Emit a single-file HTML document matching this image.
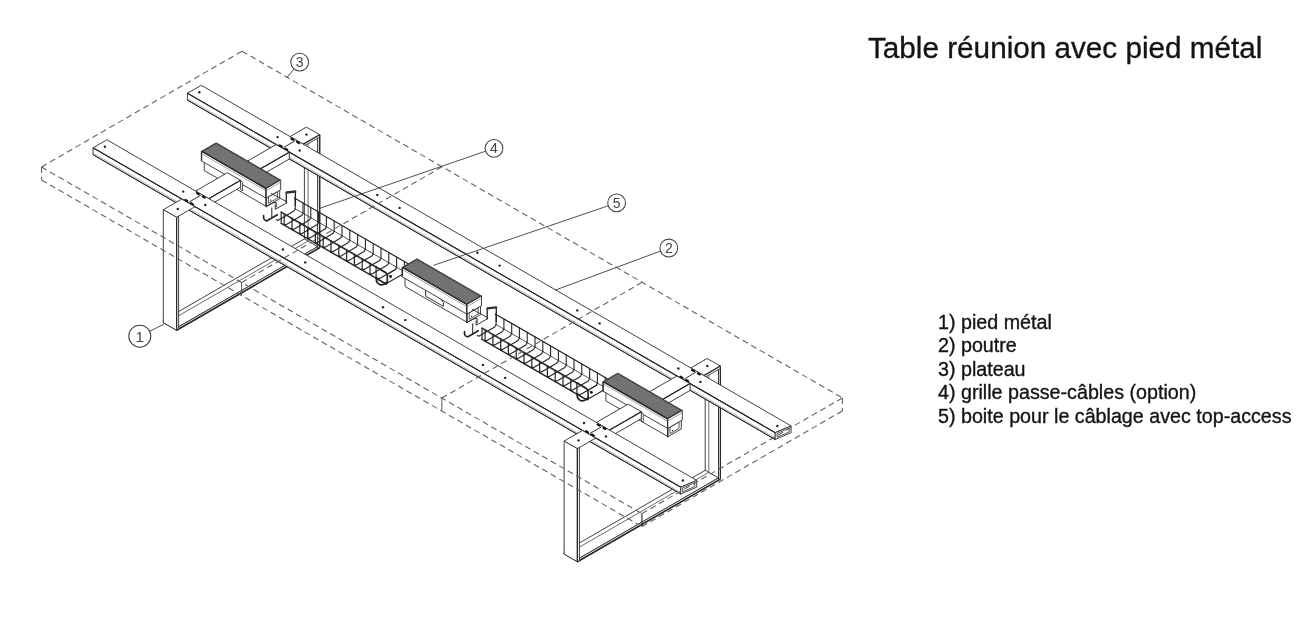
<!DOCTYPE html>
<html lang="fr">
<head>
<meta charset="utf-8">
<title>Table réunion avec pied métal</title>
<style>
html,body{margin:0;padding:0;background:#fff;}
body{width:1310px;height:622px;position:relative;overflow:hidden;font-family:"Liberation Sans",sans-serif;color:#111;}
svg{position:absolute;left:0;top:0;will-change:transform;filter:blur(0.4px);}
svg text{font-family:"Liberation Sans",sans-serif;}
.title,.legend{will-change:transform;filter:blur(0.25px);-webkit-text-stroke:0.35px #141414;}
.title{position:absolute;left:867.8px;top:29.6px;font-size:29.7px;line-height:36px;white-space:nowrap;color:#141414;}
.legend{position:absolute;left:937.8px;top:310.9px;font-size:19.7px;line-height:23.45px;white-space:nowrap;color:#141414;}
</style>
</head>
<body>
<svg width="1310" height="622" viewBox="0 0 1310 622" stroke-linecap="butt" stroke-linejoin="miter">
<defs>
<pattern id="hatch" width="1.5" height="1.5" patternUnits="userSpaceOnUse" patternTransform="rotate(30)">
<rect width="1.5" height="1.5" fill="#4c4c4c"/>
<rect x="0.2" y="0.2" width="0.85" height="0.85" fill="#c6c6c6"/>
</pattern>
</defs>
<polygon points="304.4,128.2 317.7,135.8 317.7,248.8 304.4,241.2" fill="#fff" stroke="#2b2b2b" stroke-width="0.9"/>
<polygon points="317.7,135.8 319.7,134.7 319.7,247.7 317.7,248.8" fill="#fff" stroke="#2b2b2b" stroke-width="0.9"/>
<line x1="308.1" y1="132.6" x2="308.1" y2="241" stroke="#2b2b2b" stroke-width="0.7"/>
<line x1="319.7" y1="134.7" x2="319.7" y2="247.7" stroke="#2b2b2b" stroke-width="1.3"/>
<polygon points="163.3,320.4 304.4,238.9 317.7,246.6 176.6,328" fill="#fff" stroke="#2b2b2b" stroke-width="0.9"/>
<polygon points="163.3,320.4 176.6,328 176.6,330.3 163.3,322.6" fill="#fff" stroke="#2b2b2b" stroke-width="0.9"/>
<polygon points="176.6,328 317.7,246.6 317.7,248.8 176.6,330.3" fill="#fff" stroke="#2b2b2b" stroke-width="0.9"/>
<line x1="169" y1="321.3" x2="308.1" y2="241" stroke="#2b2b2b" stroke-width="0.7"/>
<line x1="176.6" y1="330.3" x2="319.7" y2="247.7" stroke="#2b2b2b" stroke-width="1.6"/>
<polygon points="705.2,359.6 718.5,367.2 718.5,480.2 705.2,472.6" fill="#fff" stroke="#2b2b2b" stroke-width="0.9"/>
<polygon points="718.5,367.2 720.4,366.1 720.4,479.1 718.5,480.2" fill="#fff" stroke="#2b2b2b" stroke-width="0.9"/>
<line x1="708.8" y1="364" x2="708.8" y2="472.4" stroke="#2b2b2b" stroke-width="0.7"/>
<line x1="720.4" y1="366.1" x2="720.4" y2="479.1" stroke="#2b2b2b" stroke-width="1.3"/>
<polygon points="564.1,551.8 705.2,470.3 718.5,477.9 577.4,559.4" fill="#fff" stroke="#2b2b2b" stroke-width="0.9"/>
<polygon points="564.1,551.8 577.4,559.4 577.4,561.7 564.1,554.1" fill="#fff" stroke="#2b2b2b" stroke-width="0.9"/>
<polygon points="577.4,559.4 718.5,477.9 718.5,480.2 577.4,561.7" fill="#fff" stroke="#2b2b2b" stroke-width="0.9"/>
<line x1="569.8" y1="552.7" x2="708.8" y2="472.4" stroke="#2b2b2b" stroke-width="0.7"/>
<line x1="577.4" y1="561.7" x2="720.4" y2="479.1" stroke="#2b2b2b" stroke-width="1.6"/>
<polygon points="290,136.6 306.4,127.1 319.7,134.7 303.2,144.2" fill="#fff" stroke="#2b2b2b" stroke-width="0.9"/>
<polygon points="303.2,144.2 319.7,134.7 319.7,137 303.2,146.5" fill="#fff" stroke="#2b2b2b" stroke-width="0.9"/>
<line x1="303.2" y1="144.2" x2="319.7" y2="134.7" stroke="#2b2b2b" stroke-width="1.2"/>
<polygon points="690.7,368 707.2,358.5 720.4,366.1 704,375.6" fill="#fff" stroke="#2b2b2b" stroke-width="0.9"/>
<polygon points="704,375.6 720.4,366.1 720.4,368.4 704,377.9" fill="#fff" stroke="#2b2b2b" stroke-width="0.9"/>
<line x1="704" y1="375.6" x2="720.4" y2="366.1" stroke="#2b2b2b" stroke-width="1.2"/>
<polygon points="187.4,93.3 201.3,85.3 791.1,425.9 775.2,432.7" fill="#fff" stroke="#2b2b2b" stroke-width="0.9"/>
<polygon points="187.4,93.3 775.2,432.7 775.2,439.5 187.4,100.1" fill="#fff" stroke="#2b2b2b" stroke-width="0.9"/>
<polygon points="775.2,432.7 791.1,425.9 791.1,432.7 775.2,439.5" fill="#fff" stroke="#2b2b2b" stroke-width="0.9" stroke-linejoin="round"/>
<line x1="187.4" y1="93.3" x2="775.2" y2="432.7" stroke="#2b2b2b" stroke-width="1.2"/>
<line x1="187.4" y1="100.1" x2="775.2" y2="439.5" stroke="#2b2b2b" stroke-width="1"/>
<line x1="187.4" y1="98.5" x2="775.2" y2="437.9" stroke="#777" stroke-width="0.5"/>
<polygon points="777.1,433.4 789.2,428.2 789.2,432 777.1,437.2" fill="#fff" stroke="#2b2b2b" stroke-width="0.8" stroke-linejoin="round"/>
<polygon points="242.1,164.2 276.1,144.6 289.3,152.2 255.3,171.8" fill="#fff" stroke="#2b2b2b" stroke-width="0.9"/>
<polygon points="255.3,171.8 289.3,152.2 289.3,159 255.3,178.7" fill="#fff" stroke="#2b2b2b" stroke-width="0.9"/>
<line x1="255.3" y1="171.8" x2="289.3" y2="152.2" stroke="#2b2b2b" stroke-width="1.2"/>
<polygon points="642.9,395.6 676.9,376 690.1,383.6 656.1,403.2" fill="#fff" stroke="#2b2b2b" stroke-width="0.9"/>
<polygon points="656.1,403.2 690.1,383.6 690.1,390.4 656.1,410.1" fill="#fff" stroke="#2b2b2b" stroke-width="0.9"/>
<line x1="656.1" y1="403.2" x2="690.1" y2="383.6" stroke="#2b2b2b" stroke-width="1.2"/>
<polyline points="294.4,198 415.6,268" fill="none" stroke="#262626" stroke-width="1.2" stroke-linejoin="round" stroke-linecap="round"/>
<polyline points="295.2,198.5 295.2,208.7" fill="none" stroke="#262626" stroke-width="1.1" stroke-linejoin="round" stroke-linecap="round"/>
<polyline points="303,203 303,213.2" fill="none" stroke="#262626" stroke-width="1.1" stroke-linejoin="round" stroke-linecap="round"/>
<polyline points="310.8,207.5 310.8,217.7" fill="none" stroke="#262626" stroke-width="1.1" stroke-linejoin="round" stroke-linecap="round"/>
<polyline points="318.6,212 318.6,222.2" fill="none" stroke="#262626" stroke-width="1.1" stroke-linejoin="round" stroke-linecap="round"/>
<polyline points="326.4,216.5 326.4,226.7" fill="none" stroke="#262626" stroke-width="1.1" stroke-linejoin="round" stroke-linecap="round"/>
<polyline points="334.2,221 334.2,231.2" fill="none" stroke="#262626" stroke-width="1.1" stroke-linejoin="round" stroke-linecap="round"/>
<polyline points="342,225.5 342,235.7" fill="none" stroke="#262626" stroke-width="1.1" stroke-linejoin="round" stroke-linecap="round"/>
<polyline points="349.8,230 349.8,240.2" fill="none" stroke="#262626" stroke-width="1.1" stroke-linejoin="round" stroke-linecap="round"/>
<polyline points="357.6,234.5 357.6,244.7" fill="none" stroke="#262626" stroke-width="1.1" stroke-linejoin="round" stroke-linecap="round"/>
<polyline points="365.4,239 365.4,249.2" fill="none" stroke="#262626" stroke-width="1.1" stroke-linejoin="round" stroke-linecap="round"/>
<polyline points="373.2,243.5 373.2,253.7" fill="none" stroke="#262626" stroke-width="1.1" stroke-linejoin="round" stroke-linecap="round"/>
<polyline points="381,248 381,258.2" fill="none" stroke="#262626" stroke-width="1.1" stroke-linejoin="round" stroke-linecap="round"/>
<polyline points="388.8,252.5 388.8,262.7" fill="none" stroke="#262626" stroke-width="1.1" stroke-linejoin="round" stroke-linecap="round"/>
<polyline points="396.6,257 396.6,267.2" fill="none" stroke="#262626" stroke-width="1.1" stroke-linejoin="round" stroke-linecap="round"/>
<polyline points="404.4,261.5 404.4,271.7" fill="none" stroke="#262626" stroke-width="1.1" stroke-linejoin="round" stroke-linecap="round"/>
<polyline points="412.1,266 412.1,276.2" fill="none" stroke="#262626" stroke-width="1.1" stroke-linejoin="round" stroke-linecap="round"/>
<polyline points="295.2,208.7 415.6,278.2" fill="none" stroke="#262626" stroke-width="0.8" stroke-linejoin="round" stroke-linecap="round"/>
<polyline points="289.3,217.7 391.5,276.7" fill="none" stroke="#555" stroke-width="0.6" stroke-linejoin="round" stroke-linecap="round"/>
<polyline points="295.2,208.7 293.9,211.1 277.8,220.4 276.4,219.6" fill="none" stroke="#262626" stroke-width="1.1" stroke-linejoin="round" stroke-linecap="round"/>
<polyline points="303,213.2 301.6,215.6 285.6,224.9 284.2,224.1" fill="none" stroke="#262626" stroke-width="1.1" stroke-linejoin="round" stroke-linecap="round"/>
<polyline points="310.8,217.7 309.4,220.1 293.4,229.4 292,228.6" fill="none" stroke="#262626" stroke-width="1.1" stroke-linejoin="round" stroke-linecap="round"/>
<polyline points="318.6,222.2 317.2,224.6 301.2,233.9 299.8,233.1" fill="none" stroke="#262626" stroke-width="1.1" stroke-linejoin="round" stroke-linecap="round"/>
<polyline points="326.4,226.7 325,229.1 309,238.4 307.6,237.6" fill="none" stroke="#262626" stroke-width="1.1" stroke-linejoin="round" stroke-linecap="round"/>
<polyline points="334.2,231.2 332.8,233.6 316.8,242.9 315.4,242.1" fill="none" stroke="#262626" stroke-width="1.1" stroke-linejoin="round" stroke-linecap="round"/>
<polyline points="342,235.7 340.6,238.1 324.6,247.4 323.2,246.6" fill="none" stroke="#262626" stroke-width="1.1" stroke-linejoin="round" stroke-linecap="round"/>
<polyline points="349.8,240.2 348.4,242.6 332.4,251.9 331,251.1" fill="none" stroke="#262626" stroke-width="1.1" stroke-linejoin="round" stroke-linecap="round"/>
<polyline points="357.6,244.7 356.2,247.1 340.2,256.4 338.8,255.6" fill="none" stroke="#262626" stroke-width="1.1" stroke-linejoin="round" stroke-linecap="round"/>
<polyline points="365.4,249.2 364,251.6 348,260.9 346.6,260.1" fill="none" stroke="#262626" stroke-width="1.1" stroke-linejoin="round" stroke-linecap="round"/>
<polyline points="373.2,253.7 371.8,256.1 355.8,265.3 354.4,264.5" fill="none" stroke="#262626" stroke-width="1.1" stroke-linejoin="round" stroke-linecap="round"/>
<polyline points="381,258.2 379.6,260.6 363.6,269.8 362.2,269" fill="none" stroke="#262626" stroke-width="1.1" stroke-linejoin="round" stroke-linecap="round"/>
<polyline points="388.8,262.7 387.4,265.1 371.4,274.3 370,273.5" fill="none" stroke="#262626" stroke-width="1.1" stroke-linejoin="round" stroke-linecap="round"/>
<polyline points="396.6,267.2 395.2,269.6 379.2,278.8 377.8,278" fill="none" stroke="#262626" stroke-width="1.1" stroke-linejoin="round" stroke-linecap="round"/>
<polyline points="404.4,271.7 403,274.1 386.9,283.3 385.6,282.5" fill="none" stroke="#262626" stroke-width="1.1" stroke-linejoin="round" stroke-linecap="round"/>
<polyline points="281.2,223.4 281.2,212.1" fill="none" stroke="#262626" stroke-width="1.2" stroke-linejoin="round" stroke-linecap="round"/>
<polyline points="284.2,225.2 284.2,213.9" fill="none" stroke="#262626" stroke-width="1.2" stroke-linejoin="round" stroke-linecap="round"/>
<polyline points="292,229.7 292,218.4" fill="none" stroke="#262626" stroke-width="1.2" stroke-linejoin="round" stroke-linecap="round"/>
<polyline points="299.8,234.2 299.8,222.9" fill="none" stroke="#262626" stroke-width="1.2" stroke-linejoin="round" stroke-linecap="round"/>
<polyline points="307.6,238.7 307.6,227.4" fill="none" stroke="#262626" stroke-width="1.2" stroke-linejoin="round" stroke-linecap="round"/>
<polyline points="315.4,243.2 315.4,231.9" fill="none" stroke="#262626" stroke-width="1.2" stroke-linejoin="round" stroke-linecap="round"/>
<polyline points="323.2,247.7 323.2,236.4" fill="none" stroke="#262626" stroke-width="1.2" stroke-linejoin="round" stroke-linecap="round"/>
<polyline points="331,252.2 331,240.9" fill="none" stroke="#262626" stroke-width="1.2" stroke-linejoin="round" stroke-linecap="round"/>
<polyline points="338.8,256.7 338.8,245.4" fill="none" stroke="#262626" stroke-width="1.2" stroke-linejoin="round" stroke-linecap="round"/>
<polyline points="346.6,261.2 346.6,249.9" fill="none" stroke="#262626" stroke-width="1.2" stroke-linejoin="round" stroke-linecap="round"/>
<polyline points="354.4,265.6 354.4,254.3" fill="none" stroke="#262626" stroke-width="1.2" stroke-linejoin="round" stroke-linecap="round"/>
<polyline points="362.2,270.1 362.2,258.8" fill="none" stroke="#262626" stroke-width="1.2" stroke-linejoin="round" stroke-linecap="round"/>
<polyline points="370,274.6 370,263.3" fill="none" stroke="#262626" stroke-width="1.2" stroke-linejoin="round" stroke-linecap="round"/>
<polyline points="376.1,278.2 376.1,266.9" fill="none" stroke="#262626" stroke-width="1.2" stroke-linejoin="round" stroke-linecap="round"/>
<polyline points="281.2,212.1 376.1,266.9" fill="none" stroke="#262626" stroke-width="1.4" stroke-linejoin="round" stroke-linecap="round"/>
<polyline points="281.2,223.4 376.1,278.2" fill="none" stroke="#262626" stroke-width="1.4" stroke-linejoin="round" stroke-linecap="round"/>
<polyline points="495.2,313.9 616.4,383.9" fill="none" stroke="#262626" stroke-width="1.2" stroke-linejoin="round" stroke-linecap="round"/>
<polyline points="496.1,314.4 496.1,324.6" fill="none" stroke="#262626" stroke-width="1.1" stroke-linejoin="round" stroke-linecap="round"/>
<polyline points="503.9,318.9 503.9,329.1" fill="none" stroke="#262626" stroke-width="1.1" stroke-linejoin="round" stroke-linecap="round"/>
<polyline points="511.7,323.4 511.7,333.6" fill="none" stroke="#262626" stroke-width="1.1" stroke-linejoin="round" stroke-linecap="round"/>
<polyline points="519.4,327.9 519.4,338.1" fill="none" stroke="#262626" stroke-width="1.1" stroke-linejoin="round" stroke-linecap="round"/>
<polyline points="527.2,332.4 527.2,342.6" fill="none" stroke="#262626" stroke-width="1.1" stroke-linejoin="round" stroke-linecap="round"/>
<polyline points="535,336.9 535,347.1" fill="none" stroke="#262626" stroke-width="1.1" stroke-linejoin="round" stroke-linecap="round"/>
<polyline points="542.8,341.4 542.8,351.6" fill="none" stroke="#262626" stroke-width="1.1" stroke-linejoin="round" stroke-linecap="round"/>
<polyline points="550.6,345.9 550.6,356.1" fill="none" stroke="#262626" stroke-width="1.1" stroke-linejoin="round" stroke-linecap="round"/>
<polyline points="558.4,350.4 558.4,360.6" fill="none" stroke="#262626" stroke-width="1.1" stroke-linejoin="round" stroke-linecap="round"/>
<polyline points="566.2,354.9 566.2,365.1" fill="none" stroke="#262626" stroke-width="1.1" stroke-linejoin="round" stroke-linecap="round"/>
<polyline points="574,359.4 574,369.6" fill="none" stroke="#262626" stroke-width="1.1" stroke-linejoin="round" stroke-linecap="round"/>
<polyline points="581.8,363.9 581.8,374.1" fill="none" stroke="#262626" stroke-width="1.1" stroke-linejoin="round" stroke-linecap="round"/>
<polyline points="589.6,368.4 589.6,378.6" fill="none" stroke="#262626" stroke-width="1.1" stroke-linejoin="round" stroke-linecap="round"/>
<polyline points="597.4,372.9 597.4,383.1" fill="none" stroke="#262626" stroke-width="1.1" stroke-linejoin="round" stroke-linecap="round"/>
<polyline points="605.2,377.4 605.2,387.6" fill="none" stroke="#262626" stroke-width="1.1" stroke-linejoin="round" stroke-linecap="round"/>
<polyline points="613,381.9 613,392.1" fill="none" stroke="#262626" stroke-width="1.1" stroke-linejoin="round" stroke-linecap="round"/>
<polyline points="496.1,324.6 616.4,394.1" fill="none" stroke="#262626" stroke-width="0.8" stroke-linejoin="round" stroke-linecap="round"/>
<polyline points="490.1,333.7 592.3,392.7" fill="none" stroke="#555" stroke-width="0.6" stroke-linejoin="round" stroke-linecap="round"/>
<polyline points="496.1,324.6 494.7,327.1 478.7,336.3 477.3,335.5" fill="none" stroke="#262626" stroke-width="1.1" stroke-linejoin="round" stroke-linecap="round"/>
<polyline points="503.9,329.1 502.5,331.6 486.5,340.8 485.1,340" fill="none" stroke="#262626" stroke-width="1.1" stroke-linejoin="round" stroke-linecap="round"/>
<polyline points="511.7,333.6 510.3,336.1 494.2,345.3 492.9,344.5" fill="none" stroke="#262626" stroke-width="1.1" stroke-linejoin="round" stroke-linecap="round"/>
<polyline points="519.4,338.1 518.1,340.6 502,349.8 500.7,349" fill="none" stroke="#262626" stroke-width="1.1" stroke-linejoin="round" stroke-linecap="round"/>
<polyline points="527.2,342.6 525.9,345.1 509.8,354.3 508.4,353.5" fill="none" stroke="#262626" stroke-width="1.1" stroke-linejoin="round" stroke-linecap="round"/>
<polyline points="535,347.1 533.6,349.6 517.6,358.8 516.2,358" fill="none" stroke="#262626" stroke-width="1.1" stroke-linejoin="round" stroke-linecap="round"/>
<polyline points="542.8,351.6 541.4,354.1 525.4,363.3 524,362.5" fill="none" stroke="#262626" stroke-width="1.1" stroke-linejoin="round" stroke-linecap="round"/>
<polyline points="550.6,356.1 549.2,358.6 533.2,367.8 531.8,367" fill="none" stroke="#262626" stroke-width="1.1" stroke-linejoin="round" stroke-linecap="round"/>
<polyline points="558.4,360.6 557,363.1 541,372.3 539.6,371.5" fill="none" stroke="#262626" stroke-width="1.1" stroke-linejoin="round" stroke-linecap="round"/>
<polyline points="566.2,365.1 564.8,367.6 548.8,376.8 547.4,376" fill="none" stroke="#262626" stroke-width="1.1" stroke-linejoin="round" stroke-linecap="round"/>
<polyline points="574,369.6 572.6,372.1 556.6,381.3 555.2,380.5" fill="none" stroke="#262626" stroke-width="1.1" stroke-linejoin="round" stroke-linecap="round"/>
<polyline points="581.8,374.1 580.4,376.6 564.4,385.8 563,385" fill="none" stroke="#262626" stroke-width="1.1" stroke-linejoin="round" stroke-linecap="round"/>
<polyline points="589.6,378.6 588.2,381.1 572.2,390.3 570.8,389.5" fill="none" stroke="#262626" stroke-width="1.1" stroke-linejoin="round" stroke-linecap="round"/>
<polyline points="597.4,383.1 596,385.6 580,394.8 578.6,394" fill="none" stroke="#262626" stroke-width="1.1" stroke-linejoin="round" stroke-linecap="round"/>
<polyline points="605.2,387.6 603.8,390.1 587.8,399.3 586.4,398.5" fill="none" stroke="#262626" stroke-width="1.1" stroke-linejoin="round" stroke-linecap="round"/>
<polyline points="482,339.4 482,328.1" fill="none" stroke="#262626" stroke-width="1.2" stroke-linejoin="round" stroke-linecap="round"/>
<polyline points="485.1,341.1 485.1,329.8" fill="none" stroke="#262626" stroke-width="1.2" stroke-linejoin="round" stroke-linecap="round"/>
<polyline points="492.9,345.6 492.9,334.3" fill="none" stroke="#262626" stroke-width="1.2" stroke-linejoin="round" stroke-linecap="round"/>
<polyline points="500.7,350.1 500.7,338.8" fill="none" stroke="#262626" stroke-width="1.2" stroke-linejoin="round" stroke-linecap="round"/>
<polyline points="508.4,354.6 508.4,343.3" fill="none" stroke="#262626" stroke-width="1.2" stroke-linejoin="round" stroke-linecap="round"/>
<polyline points="516.2,359.1 516.2,347.8" fill="none" stroke="#262626" stroke-width="1.2" stroke-linejoin="round" stroke-linecap="round"/>
<polyline points="524,363.6 524,352.3" fill="none" stroke="#262626" stroke-width="1.2" stroke-linejoin="round" stroke-linecap="round"/>
<polyline points="531.8,368.1 531.8,356.8" fill="none" stroke="#262626" stroke-width="1.2" stroke-linejoin="round" stroke-linecap="round"/>
<polyline points="539.6,372.6 539.6,361.3" fill="none" stroke="#262626" stroke-width="1.2" stroke-linejoin="round" stroke-linecap="round"/>
<polyline points="547.4,377.1 547.4,365.8" fill="none" stroke="#262626" stroke-width="1.2" stroke-linejoin="round" stroke-linecap="round"/>
<polyline points="555.2,381.6 555.2,370.3" fill="none" stroke="#262626" stroke-width="1.2" stroke-linejoin="round" stroke-linecap="round"/>
<polyline points="563,386.1 563,374.8" fill="none" stroke="#262626" stroke-width="1.2" stroke-linejoin="round" stroke-linecap="round"/>
<polyline points="570.8,390.6 570.8,379.3" fill="none" stroke="#262626" stroke-width="1.2" stroke-linejoin="round" stroke-linecap="round"/>
<polyline points="576.9,394.1 576.9,382.8" fill="none" stroke="#262626" stroke-width="1.2" stroke-linejoin="round" stroke-linecap="round"/>
<polyline points="482,328.1 576.9,382.8" fill="none" stroke="#262626" stroke-width="1.4" stroke-linejoin="round" stroke-linecap="round"/>
<polyline points="482,339.4 576.9,394.1" fill="none" stroke="#262626" stroke-width="1.4" stroke-linejoin="round" stroke-linecap="round"/>
<polygon points="204.2,161 217.6,153.3 279.7,189.2 266.3,196.9" fill="#fff" stroke="#2b2b2b" stroke-width="0.9"/>
<polygon points="204.2,161 266.3,196.9 266.3,206.4 204.2,170.5" fill="#fff" stroke="#2b2b2b" stroke-width="0.9"/>
<polygon points="266.3,196.9 279.7,189.2 279.7,198.7 266.3,206.4" fill="#fff" stroke="#2b2b2b" stroke-width="0.9"/>
<polygon points="268.4,203.4 277.4,198.2 277.4,191.8 268.4,197" fill="#fff" stroke="#2b2b2b" stroke-width="0.8" stroke-linejoin="round"/>
<circle cx="270.8" cy="200.2" r="0.7" fill="#222"/>
<polygon points="201.5,151.3 216.2,142.8 280.7,180.1 266,188.6" fill="#fff" stroke="#2b2b2b" stroke-width="0.9"/>
<polygon points="201.5,151.3 266,188.6 266,198.2 201.5,160.9" fill="#fff" stroke="#2b2b2b" stroke-width="0.9"/>
<polygon points="266,188.6 280.7,180.1 280.7,189.7 266,198.2" fill="#fff" stroke="#2b2b2b" stroke-width="0.9"/>
<line x1="201.5" y1="153.6" x2="266" y2="190.8" stroke="#666" stroke-width="0.6"/>
<line x1="266" y1="190.8" x2="280.7" y2="182.3" stroke="#666" stroke-width="0.6"/>
<line x1="201.5" y1="151.3" x2="266" y2="188.6" stroke="#2b2b2b" stroke-width="1.3"/>
<line x1="201.5" y1="151.3" x2="201.5" y2="160.9" stroke="#2b2b2b" stroke-width="1.3"/>
<line x1="266" y1="188.6" x2="266" y2="207.2" stroke="#2b2b2b" stroke-width="1.1"/>
<polygon points="202.7,151.3 216.2,143.5 279.5,180.1 266,187.9" fill="url(#hatch)" stroke="#222" stroke-width="0.8"/>
<polygon points="405,277 418.4,269.3 480.5,305.1 467.1,312.8" fill="#fff" stroke="#2b2b2b" stroke-width="0.9"/>
<polygon points="405,277 467.1,312.8 467.1,322.3 405,286.5" fill="#fff" stroke="#2b2b2b" stroke-width="0.9"/>
<polygon points="467.1,312.8 480.5,305.1 480.5,314.6 467.1,322.3" fill="#fff" stroke="#2b2b2b" stroke-width="0.9"/>
<polygon points="469.2,319.3 478.2,314.1 478.2,307.8 469.2,312.9" fill="#fff" stroke="#2b2b2b" stroke-width="0.8" stroke-linejoin="round"/>
<circle cx="471.6" cy="316.2" r="0.7" fill="#222"/>
<polyline points="425.6,289.3 439.9,297.6 443.4,302.6 443.4,306.4 425.6,296.1 425.6,289.3" fill="none" stroke="#333" stroke-width="1" stroke-linejoin="round" stroke-linecap="round"/>
<polygon points="402.3,267.3 417,258.8 481.5,296 466.8,304.5" fill="#fff" stroke="#2b2b2b" stroke-width="0.9"/>
<polygon points="402.3,267.3 466.8,304.5 466.8,314.1 402.3,276.9" fill="#fff" stroke="#2b2b2b" stroke-width="0.9"/>
<polygon points="466.8,304.5 481.5,296 481.5,305.6 466.8,314.1" fill="#fff" stroke="#2b2b2b" stroke-width="0.9"/>
<line x1="402.3" y1="269.5" x2="466.8" y2="306.7" stroke="#666" stroke-width="0.6"/>
<line x1="466.8" y1="306.7" x2="481.5" y2="298.2" stroke="#666" stroke-width="0.6"/>
<line x1="402.3" y1="267.3" x2="466.8" y2="304.5" stroke="#2b2b2b" stroke-width="1.3"/>
<line x1="402.3" y1="267.3" x2="402.3" y2="276.9" stroke="#2b2b2b" stroke-width="1.3"/>
<line x1="466.8" y1="304.5" x2="466.8" y2="323.1" stroke="#2b2b2b" stroke-width="1.1"/>
<polygon points="403.5,267.3 417,259.5 480.3,296.1 466.8,303.9" fill="url(#hatch)" stroke="#222" stroke-width="0.8"/>
<polygon points="605.9,391.4 619.2,383.7 681.3,419.5 668,427.2" fill="#fff" stroke="#2b2b2b" stroke-width="0.9"/>
<polygon points="605.9,391.4 668,427.2 668,436.7 605.9,400.9" fill="#fff" stroke="#2b2b2b" stroke-width="0.9"/>
<polygon points="668,427.2 681.3,419.5 681.3,429 668,436.7" fill="#fff" stroke="#2b2b2b" stroke-width="0.9"/>
<polygon points="670,433.7 679,428.5 679,422.1 670,427.3" fill="#fff" stroke="#2b2b2b" stroke-width="0.8" stroke-linejoin="round"/>
<circle cx="672.5" cy="430.5" r="0.7" fill="#222"/>
<polygon points="603.1,381.6 617.8,373.1 682.3,410.4 667.6,418.9" fill="#fff" stroke="#2b2b2b" stroke-width="0.9"/>
<polygon points="603.1,381.6 667.6,418.9 667.6,428.5 603.1,391.2" fill="#fff" stroke="#2b2b2b" stroke-width="0.9"/>
<polygon points="667.6,418.9 682.3,410.4 682.3,420 667.6,428.5" fill="#fff" stroke="#2b2b2b" stroke-width="0.9"/>
<line x1="603.1" y1="383.8" x2="667.6" y2="421.1" stroke="#666" stroke-width="0.6"/>
<line x1="667.6" y1="421.1" x2="682.3" y2="412.6" stroke="#666" stroke-width="0.6"/>
<line x1="603.1" y1="381.6" x2="667.6" y2="418.9" stroke="#2b2b2b" stroke-width="1.3"/>
<line x1="603.1" y1="381.6" x2="603.1" y2="391.2" stroke="#2b2b2b" stroke-width="1.3"/>
<line x1="667.6" y1="418.9" x2="667.6" y2="437.5" stroke="#2b2b2b" stroke-width="1.1"/>
<polygon points="604.3,381.7 617.8,373.9 681.1,410.4 667.6,418.2" fill="url(#hatch)" stroke="#222" stroke-width="0.8"/>
<path d="M295.4 191.9 L295.4 205.5" fill="none" stroke="#222" stroke-width="1.3" stroke-linecap="round" stroke-linejoin="round"/>
<path d="M286.3 192.9 L286.3 203" fill="none" stroke="#222" stroke-width="1.3" stroke-linecap="round" stroke-linejoin="round"/>
<path d="M286.5 192.5 L295.2 191.5" fill="none" stroke="#333" stroke-width="2.4" stroke-linecap="round" stroke-linejoin="round"/>
<path d="M271.4 193.5 L286.3 201.5" fill="none" stroke="#222" stroke-width="0.9" stroke-linecap="round" stroke-linejoin="round"/>
<path d="M286.3 203 L275.2 209.3 L275.2 205" fill="none" stroke="#222" stroke-width="0.9" stroke-linecap="round" stroke-linejoin="round"/>
<path d="M263.6 215.6 C263.2 218.6 264.4 221.1 267.1 220.8 L277.4 214.8" fill="none" stroke="#222" stroke-width="1.6" stroke-linecap="round" stroke-linejoin="round"/>
<path d="M271.8 207.9 L271.8 218" fill="none" stroke="#222" stroke-width="1" stroke-linecap="round" stroke-linejoin="round"/>
<path d="M266.9 206.2 L272.8 203 L276.2 202.4 L276.2 206.9" fill="none" stroke="#222" stroke-width="1" stroke-linecap="round" stroke-linejoin="round"/>
<path d="M376.1 266.9 L385.3 272.2 Q387.3 273.4 387.3 275.6 L387.3 282.2 Q387.3 284.7 385.1 283.5 L376.1 278.2" fill="none" stroke="#222" stroke-width="1.6" stroke-linecap="round" stroke-linejoin="round"/>
<path d="M376.4 277.7 Q375.8 283.7 380.7 284.8 Q384.3 285.2 386.3 282.4" fill="none" stroke="#222" stroke-width="1.7" stroke-linecap="round" stroke-linejoin="round"/>
<path d="M387.3 274.4 L396.3 269.2" fill="none" stroke="#222" stroke-width="1" stroke-linecap="round" stroke-linejoin="round"/>
<circle cx="390.6" cy="276.5" r="1.4" fill="#111"/>
<path d="M496.3 307.8 L496.3 321.4" fill="none" stroke="#222" stroke-width="1.3" stroke-linecap="round" stroke-linejoin="round"/>
<path d="M487.2 308.8 L487.2 318.9" fill="none" stroke="#222" stroke-width="1.3" stroke-linecap="round" stroke-linejoin="round"/>
<path d="M487.4 308.4 L496.1 307.4" fill="none" stroke="#333" stroke-width="2.4" stroke-linecap="round" stroke-linejoin="round"/>
<path d="M472.3 309.4 L487.2 317.4" fill="none" stroke="#222" stroke-width="0.9" stroke-linecap="round" stroke-linejoin="round"/>
<path d="M487.2 318.9 L476.1 325.2 L476.1 320.9" fill="none" stroke="#222" stroke-width="0.9" stroke-linecap="round" stroke-linejoin="round"/>
<path d="M464.5 331.5 C464.1 334.5 465.3 337 468 336.7 L478.3 330.7" fill="none" stroke="#222" stroke-width="1.6" stroke-linecap="round" stroke-linejoin="round"/>
<path d="M472.7 323.8 L472.7 333.9" fill="none" stroke="#222" stroke-width="1" stroke-linecap="round" stroke-linejoin="round"/>
<path d="M467.8 322.1 L473.7 318.9 L477.1 318.3 L477.1 322.8" fill="none" stroke="#222" stroke-width="1" stroke-linecap="round" stroke-linejoin="round"/>
<path d="M576.9 382.8 L586.1 388.2 Q588.1 389.3 588.1 391.5 L588.1 398.1 Q588.1 400.6 585.9 399.4 L576.9 394.1" fill="none" stroke="#222" stroke-width="1.6" stroke-linecap="round" stroke-linejoin="round"/>
<path d="M577.2 393.6 Q576.6 399.6 581.5 400.8 Q585.1 401.1 587.1 398.3" fill="none" stroke="#222" stroke-width="1.7" stroke-linecap="round" stroke-linejoin="round"/>
<path d="M588.1 390.3 L597.1 385.1" fill="none" stroke="#222" stroke-width="1" stroke-linecap="round" stroke-linejoin="round"/>
<circle cx="591.4" cy="392.4" r="1.4" fill="#111"/>
<polygon points="195.6,191.1 227.3,172.7 240.6,180.3 208.8,198.7" fill="#fff" stroke="#2b2b2b" stroke-width="0.9"/>
<polygon points="208.8,198.7 240.6,180.3 240.6,187.2 208.8,205.5" fill="#fff" stroke="#2b2b2b" stroke-width="0.9"/>
<line x1="208.8" y1="198.7" x2="240.6" y2="180.3" stroke="#2b2b2b" stroke-width="1.2"/>
<polygon points="240.6,180.3 242.5,182.5 242.5,190.8 240.6,189.7" fill="#fff" stroke="#2b2b2b" stroke-width="0.8"/>
<polygon points="596.3,422.5 628.1,404.1 641.4,411.8 609.6,430.1" fill="#fff" stroke="#2b2b2b" stroke-width="0.9"/>
<polygon points="609.6,430.1 641.4,411.8 641.4,418.6 609.6,436.9" fill="#fff" stroke="#2b2b2b" stroke-width="0.9"/>
<line x1="609.6" y1="430.1" x2="641.4" y2="411.8" stroke="#2b2b2b" stroke-width="1.2"/>
<polygon points="641.4,411.8 643.3,413.9 643.3,422.2 641.4,421.1" fill="#fff" stroke="#2b2b2b" stroke-width="0.8"/>
<polygon points="93,147.8 106.9,139.8 696.7,480.4 680.8,487.2" fill="#fff" stroke="#2b2b2b" stroke-width="0.9"/>
<polygon points="93,147.8 680.8,487.2 680.8,494 93,154.7" fill="#fff" stroke="#2b2b2b" stroke-width="0.9"/>
<polygon points="680.8,487.2 696.7,480.4 696.7,487.2 680.8,494" fill="#fff" stroke="#2b2b2b" stroke-width="0.9" stroke-linejoin="round"/>
<line x1="93" y1="147.8" x2="680.8" y2="487.2" stroke="#2b2b2b" stroke-width="1.2"/>
<line x1="93" y1="154.7" x2="680.8" y2="494" stroke="#2b2b2b" stroke-width="1"/>
<line x1="93" y1="153" x2="680.8" y2="492.4" stroke="#777" stroke-width="0.5"/>
<polygon points="682.7,487.9 694.8,482.7 694.8,486.5 682.7,491.7" fill="#fff" stroke="#2b2b2b" stroke-width="0.8" stroke-linejoin="round"/>
<polygon points="163.3,209.7 181.7,199.1 195,206.7 176.6,217.3" fill="#fff" stroke="#2b2b2b" stroke-width="0.9"/>
<polygon points="163.3,209.7 176.6,217.3 176.6,330.3 163.3,322.6" fill="#fff" stroke="#2b2b2b" stroke-width="0.9"/>
<polygon points="176.6,217.3 178.6,216.1 178.6,329.1 176.6,330.3" fill="#fff" stroke="#2b2b2b" stroke-width="0.9"/>
<line x1="176.6" y1="217.3" x2="176.6" y2="330.3" stroke="#2b2b2b" stroke-width="1.2"/>
<polygon points="564.1,441.1 582.5,430.5 595.7,438.1 577.4,448.7" fill="#fff" stroke="#2b2b2b" stroke-width="0.9"/>
<polygon points="564.1,441.1 577.4,448.7 577.4,561.7 564.1,554.1" fill="#fff" stroke="#2b2b2b" stroke-width="0.9"/>
<polygon points="577.4,448.7 579.4,447.6 579.4,560.5 577.4,561.7" fill="#fff" stroke="#2b2b2b" stroke-width="0.9"/>
<line x1="577.4" y1="448.7" x2="577.4" y2="561.7" stroke="#2b2b2b" stroke-width="1.2"/>
<line x1="185.3" y1="199.8" x2="187.3" y2="201" stroke="#111" stroke-width="2.1" stroke-linecap="round"/>
<line x1="191" y1="203.1" x2="193" y2="204.3" stroke="#111" stroke-width="2.1" stroke-linecap="round"/>
<line x1="196.9" y1="193.1" x2="198.9" y2="194.3" stroke="#111" stroke-width="2.1" stroke-linecap="round"/>
<line x1="202.6" y1="196.4" x2="204.7" y2="197.6" stroke="#111" stroke-width="2.1" stroke-linecap="round"/>
<line x1="189.2" y1="202" x2="200.8" y2="195.3" stroke="#333" stroke-width="1"/>
<circle cx="183.2" cy="191.6" r="1.2" fill="#222"/>
<circle cx="205.3" cy="205" r="1.2" fill="#222"/>
<line x1="279.6" y1="145.3" x2="281.7" y2="146.5" stroke="#111" stroke-width="2.1" stroke-linecap="round"/>
<line x1="285.4" y1="148.6" x2="287.4" y2="149.8" stroke="#111" stroke-width="2.1" stroke-linecap="round"/>
<line x1="291.3" y1="138.6" x2="293.3" y2="139.8" stroke="#111" stroke-width="2.1" stroke-linecap="round"/>
<line x1="297" y1="141.9" x2="299" y2="143.1" stroke="#111" stroke-width="2.1" stroke-linecap="round"/>
<line x1="283.5" y1="147.5" x2="295.2" y2="140.8" stroke="#333" stroke-width="1"/>
<circle cx="277.6" cy="137.1" r="1.2" fill="#222"/>
<circle cx="299.7" cy="150.5" r="1.2" fill="#222"/>
<circle cx="177.8" cy="209" r="1.2" fill="#222"/>
<circle cx="306.5" cy="134.6" r="1.2" fill="#222"/>
<line x1="586" y1="431.2" x2="588.1" y2="432.4" stroke="#111" stroke-width="2.1" stroke-linecap="round"/>
<line x1="591.8" y1="434.5" x2="593.8" y2="435.7" stroke="#111" stroke-width="2.1" stroke-linecap="round"/>
<line x1="597.6" y1="424.5" x2="599.7" y2="425.7" stroke="#111" stroke-width="2.1" stroke-linecap="round"/>
<line x1="603.4" y1="427.8" x2="605.4" y2="429" stroke="#111" stroke-width="2.1" stroke-linecap="round"/>
<line x1="589.9" y1="433.5" x2="601.5" y2="426.8" stroke="#333" stroke-width="1"/>
<circle cx="584" cy="423" r="1.2" fill="#222"/>
<circle cx="606" cy="436.4" r="1.2" fill="#222"/>
<line x1="680.4" y1="376.7" x2="682.5" y2="377.9" stroke="#111" stroke-width="2.1" stroke-linecap="round"/>
<line x1="686.2" y1="380" x2="688.2" y2="381.2" stroke="#111" stroke-width="2.1" stroke-linecap="round"/>
<line x1="692" y1="370" x2="694.1" y2="371.2" stroke="#111" stroke-width="2.1" stroke-linecap="round"/>
<line x1="697.8" y1="373.3" x2="699.8" y2="374.5" stroke="#111" stroke-width="2.1" stroke-linecap="round"/>
<line x1="684.3" y1="379" x2="695.9" y2="372.2" stroke="#333" stroke-width="1"/>
<circle cx="678.4" cy="368.5" r="1.2" fill="#222"/>
<circle cx="700.4" cy="381.9" r="1.2" fill="#222"/>
<circle cx="578.5" cy="440.4" r="1.2" fill="#222"/>
<circle cx="707.3" cy="366" r="1.2" fill="#222"/>
<circle cx="104.9" cy="146.7" r="1.2" fill="#222"/>
<circle cx="682.9" cy="480.5" r="1.2" fill="#222"/>
<circle cx="282.9" cy="249.5" r="1.2" fill="#222"/>
<circle cx="305.2" cy="262.4" r="1.2" fill="#222"/>
<circle cx="383" cy="307.2" r="1.2" fill="#222"/>
<circle cx="405.3" cy="320.1" r="1.2" fill="#222"/>
<circle cx="482.9" cy="364.9" r="1.2" fill="#222"/>
<circle cx="505.2" cy="377.9" r="1.2" fill="#222"/>
<circle cx="199.3" cy="92.2" r="1.2" fill="#222"/>
<circle cx="777.3" cy="426" r="1.2" fill="#222"/>
<circle cx="377.3" cy="195" r="1.2" fill="#222"/>
<circle cx="399.6" cy="207.9" r="1.2" fill="#222"/>
<circle cx="477.4" cy="252.8" r="1.2" fill="#222"/>
<circle cx="499.7" cy="265.6" r="1.2" fill="#222"/>
<circle cx="577.3" cy="310.4" r="1.2" fill="#222"/>
<circle cx="599.6" cy="323.4" r="1.2" fill="#222"/>
<line x1="41.5" y1="167" x2="242" y2="51.2" stroke="#646464" stroke-width="1.1" stroke-dasharray="6 3.8" fill="none"/>
<line x1="242" y1="51.2" x2="842.4" y2="397.9" stroke="#646464" stroke-width="1.1" stroke-dasharray="6 3.8" fill="none"/>
<line x1="842.4" y1="397.9" x2="641.9" y2="513.6" stroke="#646464" stroke-width="1.1" stroke-dasharray="6 3.8" fill="none"/>
<line x1="41.5" y1="167" x2="641.9" y2="513.6" stroke="#646464" stroke-width="1.1" stroke-dasharray="6 3.8" fill="none"/>
<line x1="41.5" y1="180" x2="641.9" y2="526.6" stroke="#646464" stroke-width="1.1" stroke-dasharray="6 3.8" fill="none"/>
<line x1="641.9" y1="526.6" x2="842.4" y2="410.9" stroke="#646464" stroke-width="1.1" stroke-dasharray="6 3.8" fill="none"/>
<line x1="41.5" y1="167" x2="41.5" y2="180" stroke="#646464" stroke-width="1.1" stroke-dasharray="6 3.8" fill="none"/>
<line x1="842.4" y1="397.9" x2="842.4" y2="410.9" stroke="#646464" stroke-width="1.1" stroke-dasharray="6 3.8" fill="none"/>
<line x1="641.9" y1="513.6" x2="641.9" y2="526.6" stroke="#222" stroke-width="1.1"/>
<line x1="241.6" y1="282.5" x2="442.1" y2="166.8" stroke="#646464" stroke-width="1.1" stroke-dasharray="6 3.8" fill="none"/>
<line x1="241.6" y1="282.5" x2="241.6" y2="295.5" stroke="#444" stroke-width="0.9"/>
<line x1="441.8" y1="398.1" x2="642.2" y2="282.3" stroke="#646464" stroke-width="1.1" stroke-dasharray="6 3.8" fill="none"/>
<line x1="441.8" y1="398.1" x2="441.8" y2="411.1" stroke="#444" stroke-width="0.9"/>
<line x1="149.6" y1="331.3" x2="164.1" y2="324.1" stroke="#3c3c3c" stroke-width="0.9"/>
<circle cx="139.8" cy="336.2" r="11" fill="#fff" stroke="#444" stroke-width="1.05"/>
<text x="139.8" y="341.7" font-size="15.2" text-anchor="middle" fill="#444">1</text>
<line x1="660.5" y1="251.1" x2="555" y2="290.2" stroke="#3c3c3c" stroke-width="0.9"/>
<circle cx="668.8" cy="248" r="8.9" fill="#fff" stroke="#444" stroke-width="1.05"/>
<text x="668.8" y="253" font-size="14" text-anchor="middle" fill="#444">2</text>
<line x1="294" y1="69" x2="287" y2="77.5" stroke="#3c3c3c" stroke-width="0.9"/>
<circle cx="299.7" cy="62.1" r="8.9" fill="#fff" stroke="#444" stroke-width="1.05"/>
<text x="299.7" y="67.1" font-size="14" text-anchor="middle" fill="#444">3</text>
<line x1="485.6" y1="151.2" x2="319" y2="208.6" stroke="#3c3c3c" stroke-width="0.9"/>
<circle cx="494" cy="148.3" r="8.9" fill="#fff" stroke="#444" stroke-width="1.05"/>
<text x="494" y="153.3" font-size="14" text-anchor="middle" fill="#444">4</text>
<line x1="608.2" y1="205.8" x2="433.5" y2="265.4" stroke="#3c3c3c" stroke-width="0.9"/>
<circle cx="616.6" cy="202.9" r="8.9" fill="#fff" stroke="#444" stroke-width="1.05"/>
<text x="616.6" y="207.9" font-size="14" text-anchor="middle" fill="#444">5</text>
</svg>
<div class="title">Table réunion avec pied métal</div>
<div class="legend">1) pied métal<br>2) poutre<br>3) plateau<br>4) grille passe-câbles (option)<br>5) boite pour le câblage avec top-access</div>
</body>
</html>
